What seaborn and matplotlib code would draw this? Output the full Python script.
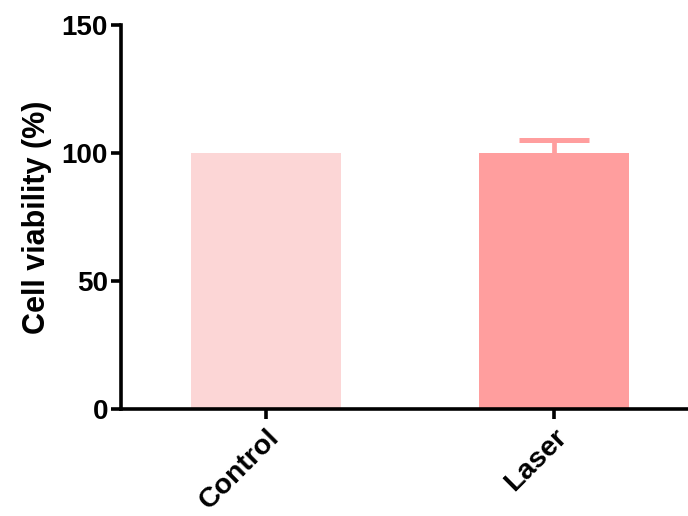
import pandas as pd
import seaborn as sns
import matplotlib.pyplot as plt

# data
groups = ['Control', 'Laser']
viability = [100.0, 99.8]
sd_upper = [0.0, 5.4]
bar_colors = ['#FCD6D6', '#FF9E9E']

df = pd.DataFrame({'Group': groups, 'Viability': viability})

sns.set_style('ticks')
plt.rcParams['font.family'] = ['Liberation Sans', 'DejaVu Sans']
plt.rcParams['font.weight'] = 'bold'
plt.rcParams['text.color'] = 'black'
plt.rcParams['axes.labelcolor'] = 'black'
plt.rcParams['xtick.color'] = 'black'
plt.rcParams['ytick.color'] = 'black'
plt.rcParams['axes.edgecolor'] = 'black'

fig = plt.figure(figsize=(6.88, 5.16), dpi=100)
ax = fig.add_axes([0.176, 0.207, 0.824, 0.745])

sns.barplot(data=df, x='Group', y='Viability', hue='Group', palette=bar_colors,
            width=0.52, errorbar=None, legend=False, ax=ax, linewidth=0,
            saturation=1)

# upper-only error bars in the bar colour
for i, (m, e) in enumerate(zip(viability, sd_upper)):
    if e > 0:
        eb = ax.errorbar(i, m, yerr=[[0], [e]], fmt='none', ecolor=bar_colors[i],
                         elinewidth=3.4, capsize=25.5, capthick=3.6)
        eb[1][0].set_visible(False)  # hide the lower cap

ax.set_ylim(0, 150)
ax.set_yticks([0, 50, 100, 150])
ax.set_xlim(-0.503, 1.465)
ax.set_xlabel('')
ax.set_ylabel('Cell viability (%)', fontsize=22, fontweight='bold', labelpad=7)

sns.despine(ax=ax)
for s in ['left', 'bottom']:
    ax.spines[s].set_linewidth(2.6)
ax.tick_params(axis='both', width=2.6, length=7.5, labelsize=20)
ax.tick_params(axis='y', pad=2)
ax.tick_params(axis='x', labelsize=20.5)
plt.setp(ax.get_xticklabels(), rotation=45, ha='right', rotation_mode='anchor',
         fontweight='bold')
plt.setp(ax.get_yticklabels(), fontweight='bold')

fig.savefig('out.png', dpi=100)
